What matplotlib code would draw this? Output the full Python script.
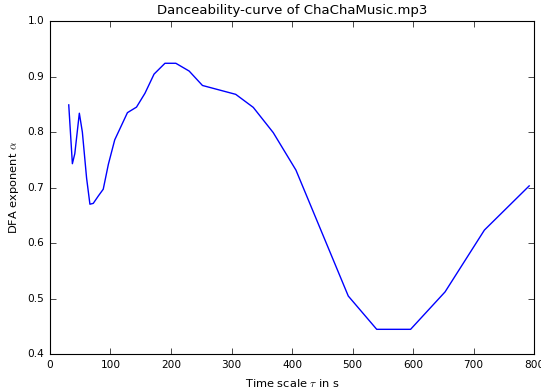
import matplotlib
matplotlib.use("Agg")
import matplotlib.pyplot as plt

# -----------------------------
# data
# -----------------------------
tau = [31, 37, 41, 48.5, 53.5, 60.5, 66, 71.5, 80, 88, 96.5, 107, 128, 143,
       157, 172, 190, 208, 230, 252, 307, 336, 369, 406.5, 493, 540, 596,
       653, 718, 792]
alpha = [0.849, 0.743, 0.761, 0.834, 0.800, 0.717, 0.670, 0.6715, 0.685,
         0.697, 0.742, 0.786, 0.835, 0.845, 0.870, 0.9045, 0.924, 0.924,
         0.910, 0.884, 0.868, 0.8445, 0.799, 0.7315, 0.5045, 0.4445, 0.4445,
         0.512, 0.6234, 0.703]

plt.style.use("classic")
plt.rcParams["figure.facecolor"] = "white"
plt.rcParams["savefig.facecolor"] = "white"

fig = plt.figure(figsize=(5.41, 3.91), dpi=100)
ax = fig.add_axes([0.0924, 0.0946, 0.8947, 0.8514])

ax.plot(tau, alpha, color="b", lw=1.0)

ax.set_xlim(0, 800)
ax.set_ylim(0.4, 1.0)
ax.set_xticks(range(0, 801, 100))
ax.set_yticks([0.4, 0.5, 0.6, 0.7, 0.8, 0.9, 1.0])
ax.tick_params(labelsize=7.6)
for s in ax.spines.values():
    s.set_linewidth(0.8)

ax.set_title("Danceability-curve of ChaChaMusic.mp3", fontsize=9.5)
ax.set_xlabel(r"Time scale $\tau$ in s", fontsize=8.2)
ax.set_ylabel(r"DFA exponent $\alpha$", fontsize=8.2)

fig.savefig("out.png", dpi=100)
